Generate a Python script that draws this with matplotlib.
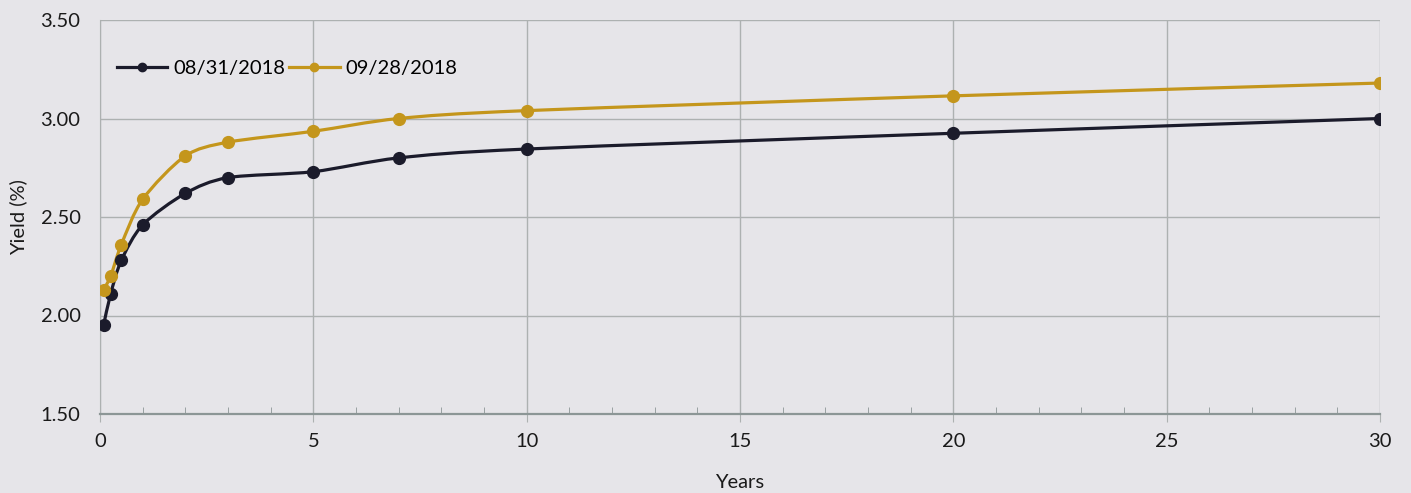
import numpy as np
import matplotlib
matplotlib.use("Agg")
import matplotlib.pyplot as plt
from matplotlib.path import Path
from matplotlib.patches import PathPatch
from matplotlib.ticker import MultipleLocator

years = [1/12, 0.25, 0.5, 1, 2, 3, 5, 7, 10, 20, 30]
yield_aug = [1.95, 2.11, 2.28, 2.46, 2.62, 2.70, 2.73, 2.80, 2.845, 2.925, 3.00]
yield_sep = [2.13, 2.20, 2.36, 2.59, 2.81, 2.88, 2.935, 3.00, 3.04, 3.115, 3.18]
labels = ["08/31/2018", "09/28/2018"]
colors = ["#1b1b2b", "#c4961c"]

plt.rcParams['font.family'] = ['Lato', 'DejaVu Sans']

fig = plt.figure(figsize=(14.11, 4.93), dpi=100)
bg = "#e6e5e9"
fig.patch.set_facecolor(bg)
ax = fig.add_axes([100/1411, 79/493, 1280/1411, 394/493])
ax.set_facecolor(bg)


def smooth_path(x, y, t=0.14):
    x = np.asarray(x, float); y = np.asarray(y, float)
    verts = [(x[0], y[0])]
    codes = [Path.MOVETO]
    n = len(x)
    for i in range(n - 1):
        p0 = (x[i-1], y[i-1]) if i > 0 else (x[i], y[i])
        p1 = (x[i], y[i]); p2 = (x[i+1], y[i+1])
        p3 = (x[i+2], y[i+2]) if i + 2 < n else (x[i+1], y[i+1])
        c1 = (p1[0] + (p2[0]-p0[0])*t, p1[1] + (p2[1]-p0[1])*t)
        c2 = (p2[0] - (p3[0]-p1[0])*t, p2[1] - (p3[1]-p1[1])*t)
        verts += [c1, c2, p2]
        codes += [Path.CURVE4]*3
    return Path(verts, codes)

for ys, lab, c in [(yield_aug, labels[0], colors[0]), (yield_sep, labels[1], colors[1])]:
    patch = PathPatch(smooth_path(years, ys), fill=False, edgecolor=c, lw=2.3, zorder=3)
    ax.add_patch(patch)
    ax.plot(years, ys, 'o', color=c, ms=8.5, zorder=4)
    ax.plot([], [], '-o', color=c, lw=2.3, ms=6, label=lab)

ax.set_xlim(0, 30)
ax.set_ylim(1.5, 3.5)
ax.xaxis.set_major_locator(MultipleLocator(5))
ax.xaxis.set_minor_locator(MultipleLocator(1))
ax.yaxis.set_major_locator(MultipleLocator(0.5))
ax.yaxis.set_major_formatter(matplotlib.ticker.FormatStrFormatter('%.2f'))
ax.grid(True, which='major', color='#adb1b1', lw=1.0)
for s in ['top', 'right']:
    ax.spines[s].set_visible(False)
ax.spines['left'].set_color('#adb1b1')
ax.spines['bottom'].set_color('#8c9696')
ax.spines['bottom'].set_linewidth(1.6)
ax.tick_params(axis='y', length=0, labelsize=14.5, pad=14, colors='#1a1a1a')
ax.tick_params(axis='x', which='major', length=6, color='#adb1b1', labelsize=14.5, pad=8, labelcolor='#1a1a1a')
ax.tick_params(axis='x', which='minor', direction='in', length=5, color='#8c9696')
ax.set_xlabel("Years", fontsize=14.5, color='#1a1a1a', labelpad=17)
ax.set_ylabel("Yield (%)", fontsize=14.5, color='#1a1a1a')
ax.yaxis.set_label_coords(-0.057, 0.5)

leg = ax.legend(loc='upper left', bbox_to_anchor=(-0.001, 0.945), ncol=2, frameon=False,
                fontsize=14.5, handlelength=2.5, columnspacing=0.2, handletextpad=0.3)

fig.savefig("out.png", dpi=100, facecolor=bg)
